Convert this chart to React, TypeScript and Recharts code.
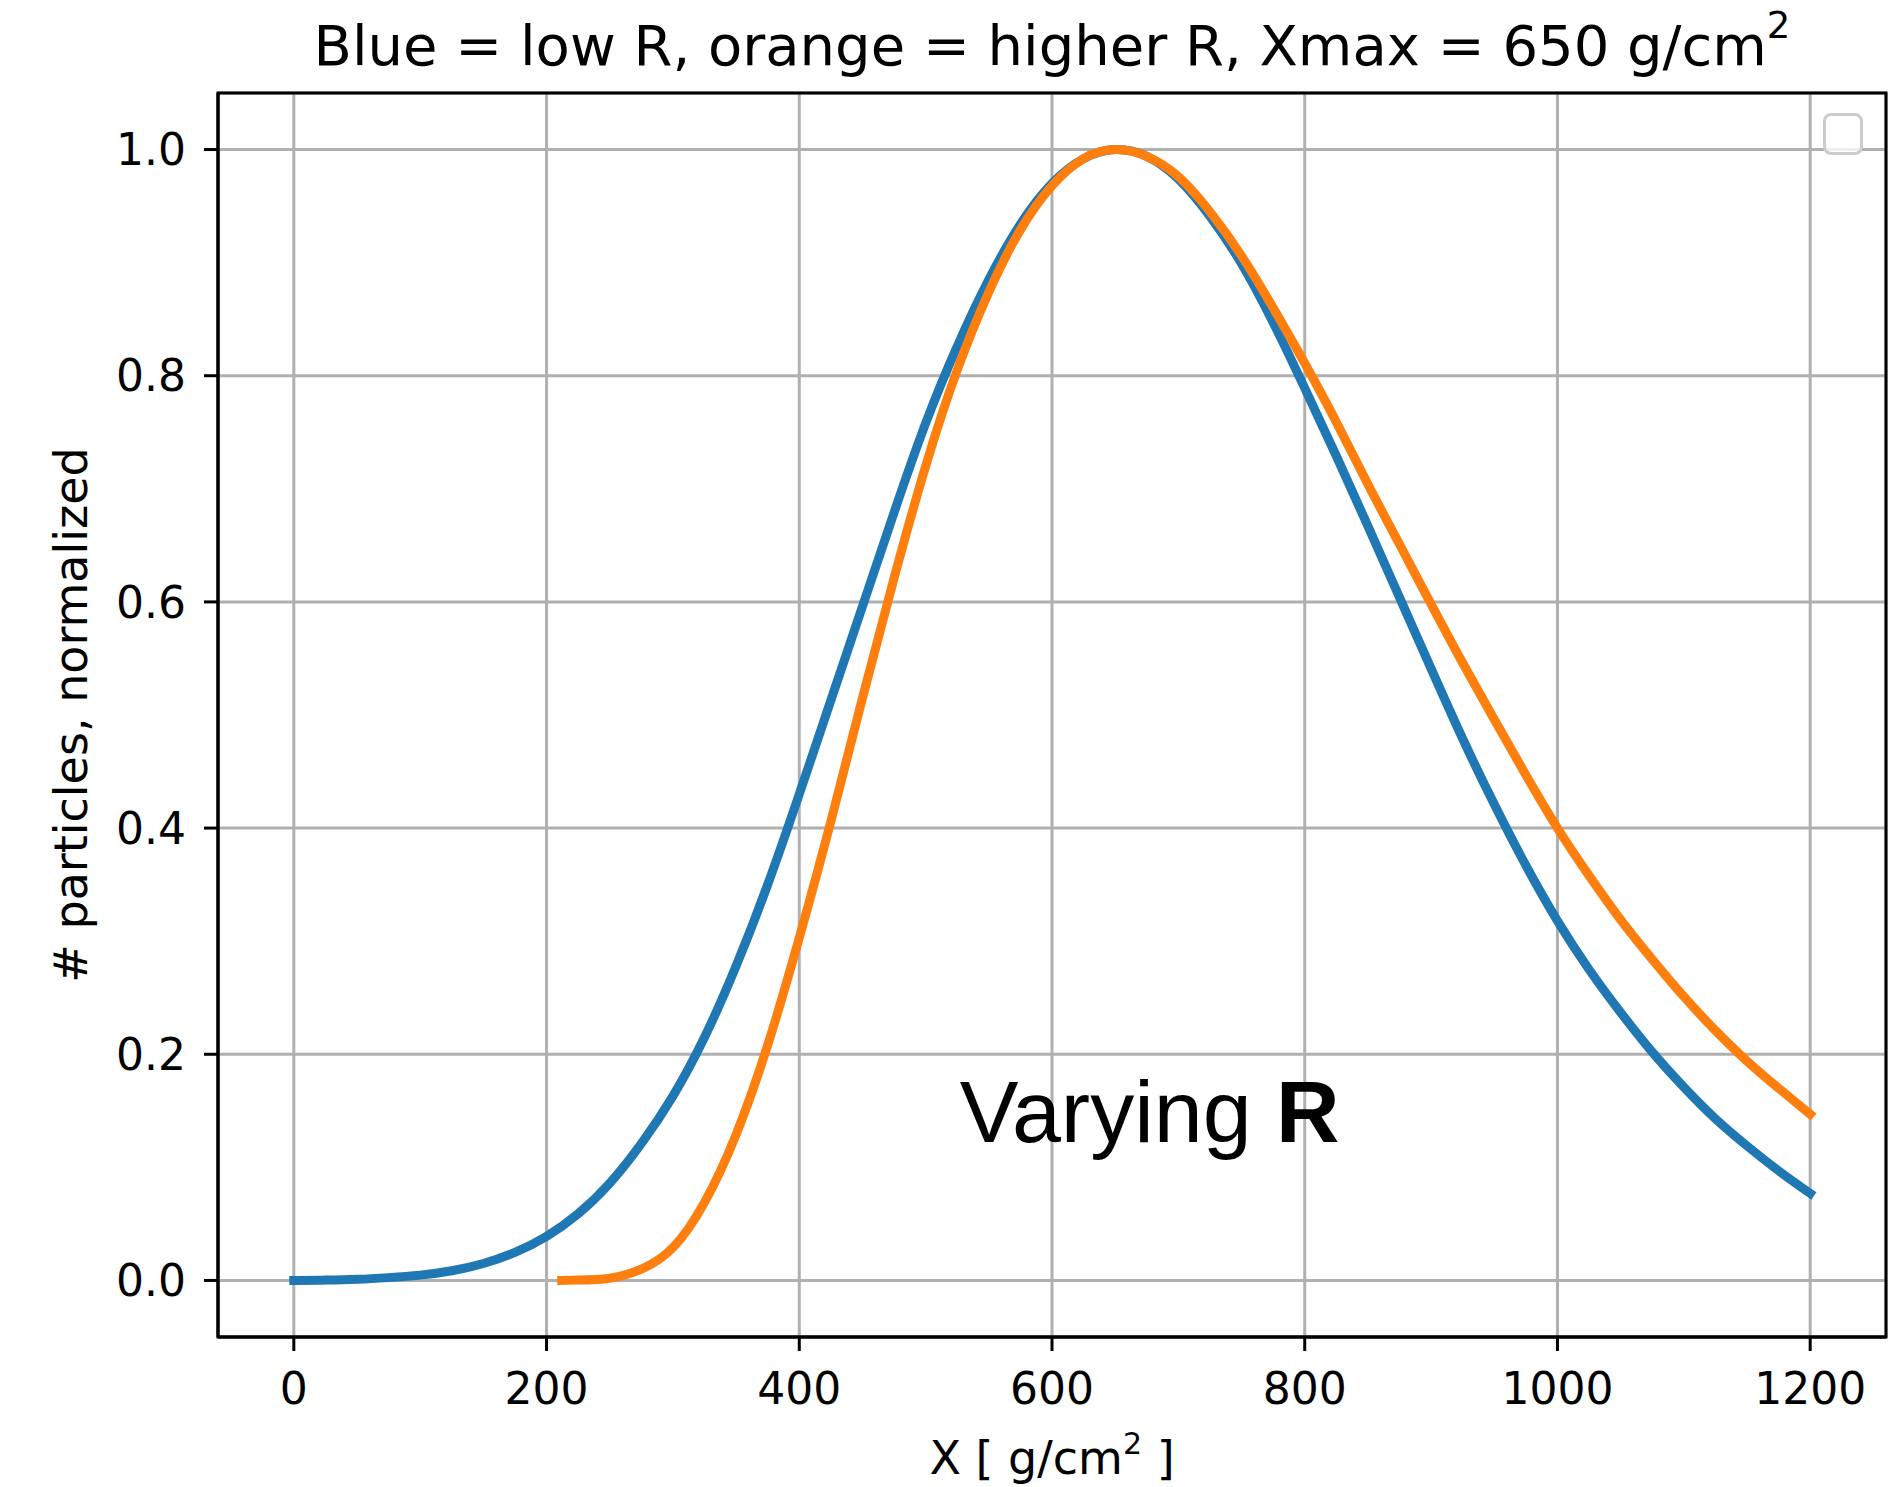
import {
  LineChart,
  Line,
  XAxis,
  YAxis,
  CartesianGrid,
  Legend,
  Label,
  ReferenceDot,
  ReferenceArea,
} from "recharts";

// values (depth X in g/cm2, normalized count)
const blueDepth = [
  0, 25, 50, 75, 100, 125, 150, 175, 200, 225, 250, 275, 300, 325, 350, 375,
  400, 425, 450, 475, 500, 525, 550, 575, 600, 625, 650, 675, 700, 725, 750,
  775, 800, 825, 850, 875, 900, 925, 950, 975, 1000, 1025, 1050, 1075, 1100,
  1125, 1150, 1175, 1200,
];
const blueParticles = [
  0.0, 0.0003, 0.001, 0.0025, 0.0047, 0.0086, 0.015, 0.0248, 0.039, 0.059,
  0.086, 0.121, 0.163, 0.215, 0.278, 0.35, 0.43, 0.513, 0.596, 0.679, 0.758,
  0.826, 0.885, 0.934, 0.97, 0.992, 1.0, 0.994, 0.974, 0.941, 0.899, 0.847,
  0.789, 0.729, 0.667, 0.604, 0.541, 0.479, 0.421, 0.367, 0.318, 0.275, 0.237,
  0.202, 0.171, 0.143, 0.119, 0.097, 0.077,
];
const orangeDepth = [
  212, 225, 250, 275, 300, 325, 350, 375, 400, 425, 450, 475, 500, 525, 550,
  575, 600, 625, 650, 675, 700, 725, 750, 775, 800, 825, 850, 875, 900, 925,
  950, 975, 1000, 1025, 1050, 1075, 1100, 1125, 1150, 1175, 1200,
];
const orangeParticles = [
  0.0, 0.0003, 0.002, 0.01, 0.029, 0.069, 0.129, 0.208, 0.303, 0.406, 0.515,
  0.621, 0.72, 0.805, 0.874, 0.929, 0.968, 0.992, 1.0, 0.994, 0.976, 0.945,
  0.906, 0.86, 0.811, 0.759, 0.704, 0.651, 0.598, 0.546, 0.496, 0.447, 0.4,
  0.358, 0.319, 0.284, 0.251, 0.221, 0.194, 0.17, 0.147,
];
const xTicks = [0, 200, 400, 600, 800, 1000, 1200];
const yTicks = [0, 0.2, 0.4, 0.6, 0.8, 1.0];
const xDomain = [-60, 1260];
const yDomain = [-0.05, 1.05];
const annotation = { x: 527, y: 0.122 };

const blueData = blueDepth.map((x, i) => ({ x, n: blueParticles[i] }));
const orangeData = orangeDepth.map((x, i) => ({ x, n: orangeParticles[i] }));

const FONT = "DejaVu Sans";
const tickStyle = { fill: "#000", fontSize: 44, fontFamily: FONT };
const spine = { stroke: "#000", strokeWidth: 3 };

// x label below the axis, plus the figure title above the plot box
function XLabelText({ viewBox }: any) {
  const cx = viewBox.x + viewBox.width / 2;
  return (
    <g>
      <text
        x={cx}
        y={65}
        textAnchor="middle"
        fontFamily={FONT}
        fontSize={56}
        fill="#000"
        style={{ whiteSpace: "pre" }}
      >
        Blue = low R, orange = higher R, Xmax = 650 g/cm
        <tspan fontSize={37} dy={-27}>
          2
        </tspan>
      </text>
      <text
        x={cx}
        y={viewBox.y + 137}
        textAnchor="middle"
        fontFamily={FONT}
        fontSize={46}
        fill="#000"
        style={{ whiteSpace: "pre" }}
      >
        X [ g/cm
        <tspan fontSize={30} dy={-20}>
          2
        </tspan>
        <tspan dy={20}> ]</tspan>
      </text>
    </g>
  );
}

function YLabelText({ viewBox }: any) {
  const cx = viewBox.x - 11;
  const cy = viewBox.y + viewBox.height / 2;
  return (
    <text
      x={cx}
      y={cy}
      transform={`rotate(-90, ${cx}, ${cy})`}
      textAnchor="middle"
      fontFamily={FONT}
      fontSize={46}
      fill="#000"
    >
      # particles, normalized
    </text>
  );
}

function VaryingText({ viewBox }: any) {
  return (
    <text
      x={viewBox.x}
      y={viewBox.y}
      fontFamily="Liberation Sans"
      fontSize={88}
      fill="#000"
    >
      Varying <tspan fontWeight="bold">R</tspan>
    </text>
  );
}

function EmptyLegend() {
  return (
    <div
      style={{
        width: 34,
        height: 36,
        border: "3px solid #cccccc",
        borderRadius: 8,
        background: "rgba(255,255,255,0.8)",
      }}
    />
  );
}

export default function App() {
  return (
    <div
      style={{
        position: "absolute",
        left: 0,
        top: 0,
        width: 1900,
        height: 1487,
        background: "#fff",
      }}
    >
      <LineChart
        width={1900}
        height={1487}
        margin={{ top: 93, right: 14, left: 98, bottom: 90 }}
      >
        <CartesianGrid stroke="#b0b0b0" strokeWidth={3} />
        <XAxis
          dataKey="x"
          type="number"
          domain={xDomain}
          ticks={xTicks}
          interval={0}
          allowDataOverflow
          height={60}
          tick={tickStyle}
          tickSize={14}
          tickMargin={22}
          axisLine={spine}
          tickLine={spine}
        >
          <Label content={XLabelText} />
        </XAxis>
        <YAxis
          type="number"
          domain={yDomain}
          ticks={yTicks}
          interval={0}
          allowDataOverflow
          width={120}
          tick={tickStyle}
          tickSize={14}
          tickMargin={18}
          tickFormatter={(v: number) => v.toFixed(1)}
          axisLine={spine}
          tickLine={spine}
        >
          <Label content={YLabelText} />
        </YAxis>
        <Legend
          layout="horizontal"
          verticalAlign="middle"
          align="center"
          wrapperStyle={{ top: 113, left: 1823, width: "auto", height: "auto" }}
          content={EmptyLegend}
        />
        <Line
          data={blueData}
          dataKey="n"
          type="natural"
          stroke="#1f77b4"
          strokeWidth={9}
          strokeLinecap="square"
          dot={false}
          activeDot={false}
          isAnimationActive={false}
        />
        <Line
          data={orangeData}
          dataKey="n"
          type="natural"
          stroke="#ff7f0e"
          strokeWidth={9}
          strokeLinecap="square"
          dot={false}
          activeDot={false}
          isAnimationActive={false}
        />
        <ReferenceDot
          x={annotation.x}
          y={annotation.y}
          r={0}
          fill="none"
          stroke="none"
        >
          <Label content={VaryingText} />
        </ReferenceDot>
        <ReferenceArea
          x1={xDomain[0]}
          x2={xDomain[1]}
          y1={yDomain[0]}
          y2={yDomain[1]}
          fill="none"
          fillOpacity={0}
          stroke="#000"
          strokeWidth={3}
        />
      </LineChart>
    </div>
  );
}
